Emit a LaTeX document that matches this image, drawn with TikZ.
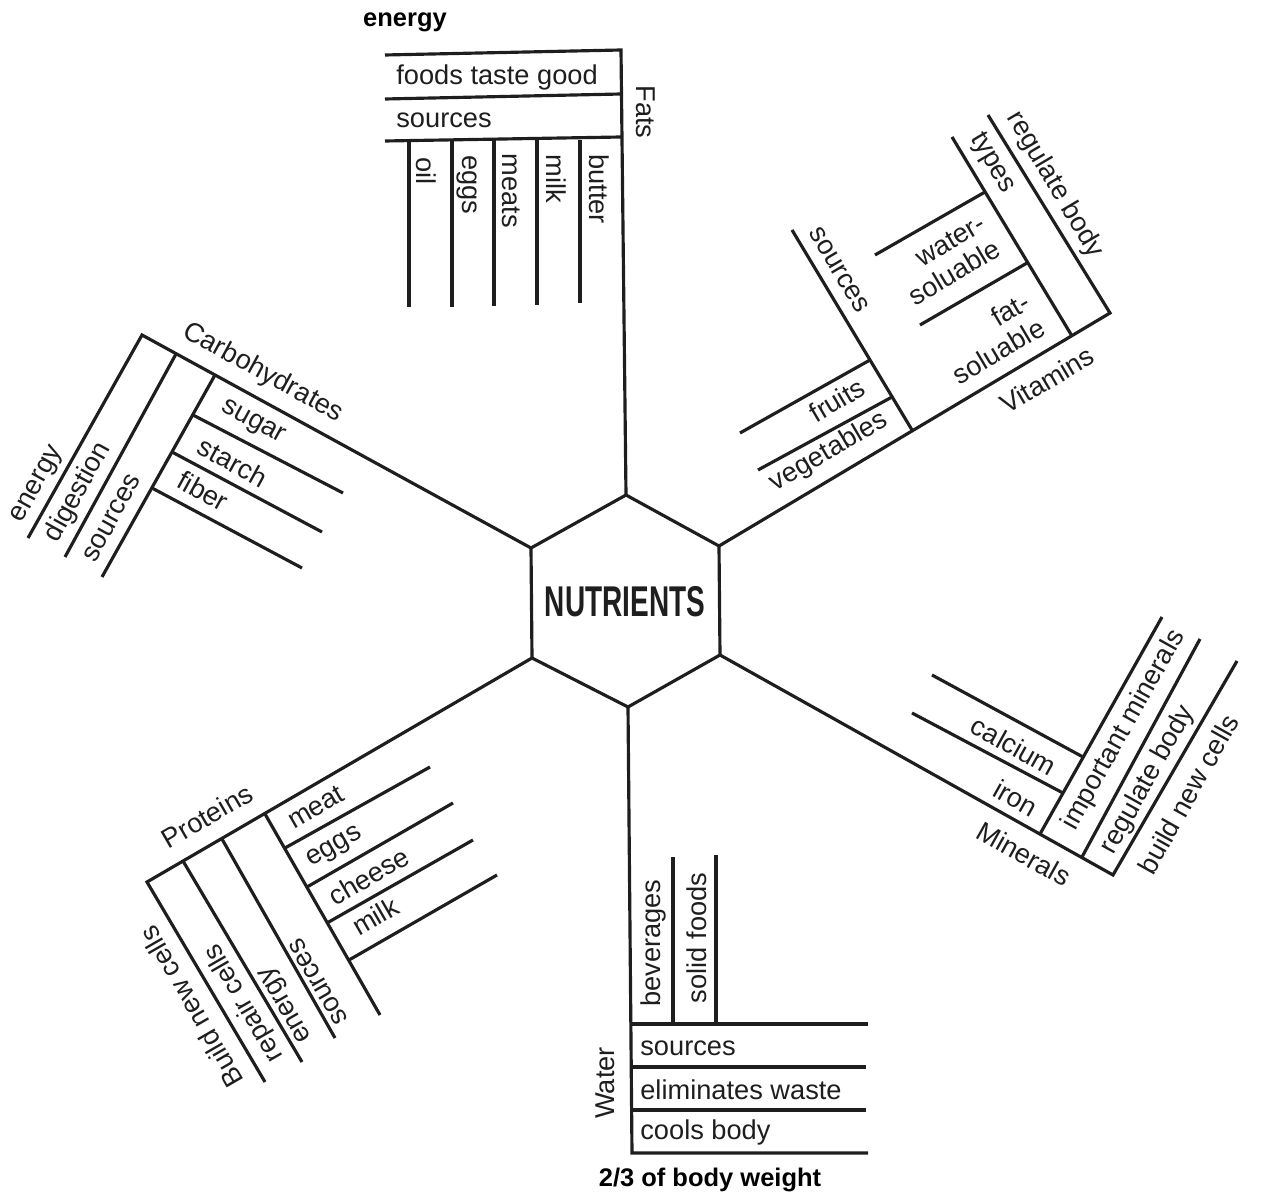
\documentclass[tikz,border=0pt]{standalone}
\usepackage{fontspec}
\setmainfont{Liberation Sans}
\begin{document}
\begin{tikzpicture}[x=0.02cm, y=-0.02cm]
\definecolor{ink}{HTML}{1E1E1E}
\tikzset{
  branch/.style={draw=ink, line width=1.8pt},
  lbl/.style={font=\fontsize{15.5}{17}\selectfont, text=ink, inner sep=0pt},
  note/.style={font=\bfseries\fontsize{14.5}{16}\selectfont, text=black, inner sep=0pt},
}
\useasboundingbox (0,0) rectangle (1262,1192);

% central hexagon
\coordinate (hT)  at (626,495);
\coordinate (hUR) at (719,546);
\coordinate (hLR) at (720,655);
\coordinate (hB)  at (628,707);
\coordinate (hLL) at (532,658);
\coordinate (hUL) at (531,548);
\draw[branch] (hT) -- (hUR) -- (hLR) -- (hB) -- (hLL) -- (hUL) -- cycle;
\node[inner sep=0pt, text=ink] (hub) at (625,602)
  {\scalebox{0.65}[1]{\bfseries\fontsize{24.5}{26}\selectfont NUTRIENTS}};

% ---- Fats ----
\draw[branch] (385,55) -- (621,50) -- (hT);
\draw[branch] (385,99) -- (621,94);
\draw[branch] (385,141) -- (621,137);
\foreach \x/\b in {409/307, 452/307, 494/306, 537/305, 580/303}
  \draw[branch] (\x,140) -- (\x,\b);
\node[lbl, anchor=west] (fTaste) at (396,77) {foods taste good};
\node[lbl, anchor=west] (fSrc) at (396,120) {sources};
\node[lbl, rotate=-90] (fOil) at (426,171) {oil};
\node[lbl, rotate=-90] (fEggs) at (467,185) {eggs};
\node[lbl, rotate=-90] (fMeats) at (511,191) {meats};
\node[lbl, rotate=-90] (fMilk) at (556,179) {milk};
\node[lbl, rotate=-90] (fButter) at (599,189) {butter};
\node[lbl, rotate=-90] (fats) at (646,112) {Fats};
\node[note] (topEnergy) at (405,22) {energy};

% ---- Vitamins ----
\draw[branch] (988,115) -- (1110,313) -- (hUR);
\draw[branch] (1072,336) -- (952,137);
\draw[branch] (985,192) -- (875,255);
\draw[branch] (1027,263) -- (920,325);
\draw[branch] (912,430) -- (792,230);
\draw[branch] (870,360) -- (740,433);
\draw[branch] (892,397) -- (758,470);
\node[lbl, rotate=-59.4] (vReg) at (1055,185) {regulate body};
\node[lbl, rotate=-59.4] (vTypes) at (992,163) {types};
\node[lbl, rotate=-59.4] (vSrc) at (839,270) {sources};
\node[lbl, rotate=30.6, align=right] (vWater) at (947,260) {water-\\soluable};
\node[lbl, rotate=30.6, align=right] (vFat) at (991,338) {fat-\\soluable};
\node[lbl, rotate=30.6] (vFruits) at (837,400) {fruits};
\node[lbl, rotate=30.6] (vVeg) at (829,452) {vegetables};
\node[lbl, rotate=30.6] (vitamins) at (1047,380) {Vitamins};

% ---- Carbohydrates ----
\draw[branch] (28,538) -- (142,335) -- (hUL);
\draw[branch] (176,354) -- (65,557);
\draw[branch] (215,375) -- (102,577);
\draw[branch] (193,415) -- (343,493);
\draw[branch] (172,452) -- (322,532);
\draw[branch] (152,488) -- (302,568);
\node[lbl, rotate=-28.7] (carbs) at (263,373) {Carbohydrates};
\node[lbl, rotate=-28.7] (cSugar) at (253,423) {sugar};
\node[lbl, rotate=-28.7] (cStarch) at (233,462) {starch};
\node[lbl, rotate=-28.7] (cFiber) at (203,491) {fiber};
\node[lbl, rotate=61] (cEnergy) at (38,485) {energy};
\node[lbl, rotate=61] (cDigest) at (78,492) {digestion};
\node[lbl, rotate=61] (cSrc) at (112,518) {sources};

% ---- Minerals ----
\draw[branch] (1237,661) -- (1113,875) -- (hLR);
\draw[branch] (1082,857) -- (1200,639);
\draw[branch] (1040,834) -- (1162,617);
\draw[branch] (1083,757) -- (932,675);
\draw[branch] (1063,793) -- (912,713);
\node[lbl, rotate=-29.2] (mCalcium) at (1014,746) {calcium};
\node[lbl, rotate=-29.2] (mIron) at (1016,798) {iron};
\node[lbl, rotate=-29.2] (minerals) at (1024,854) {Minerals};
\node[lbl, rotate=60.8] (mImportant) at (1124,730) {important minerals};
\node[lbl, rotate=60.8] (mReg) at (1148,780) {regulate body};
\node[lbl, rotate=60.8] (mBuild) at (1188,794) {build new cells};

% ---- Proteins ----
\draw[branch] (265,1082) -- (147,882) -- (hLL);
\draw[branch] (183,861) -- (302,1062);
\draw[branch] (222,839) -- (335,1038);
\draw[branch] (265,814) -- (380,1015);
\draw[branch] (285,848) -- (430,767);
\draw[branch] (307,887) -- (453,803);
\draw[branch] (327,923) -- (473,840);
\draw[branch] (349,960) -- (497,875);
\node[lbl, rotate=30.1] (proteins) at (207,816) {Proteins};
\node[lbl, rotate=30.1] (pMeat) at (316,807) {meat};
\node[lbl, rotate=30.1] (pEggs) at (335,848) {eggs};
\node[lbl, rotate=30.1] (pCheese) at (369,876) {cheese};
\node[lbl, rotate=30.1] (pMilk) at (375,916) {milk};
\node[lbl, rotate=120] (pBuild) at (191,1007) {Build new cells};
\node[lbl, rotate=120] (pRepair) at (244,1003) {repair cells};
\node[lbl, rotate=120] (pEnergy) at (287,1004) {energy};
\node[lbl, rotate=120] (pSrc) at (318,982) {sources};

% ---- Water ----
\draw[branch] (hB) -- (632,1153) -- (868,1153);
\draw[branch] (632,1024) -- (868,1024);
\draw[branch] (632,1067) -- (866,1067);
\draw[branch] (632,1110) -- (866,1110);
\draw[branch] (673,1024) -- (673,857);
\draw[branch] (716,1024) -- (716,855);
\node[lbl, rotate=90] (wBev) at (653,943) {beverages};
\node[lbl, rotate=90] (wSolid) at (697,938) {solid foods};
\node[lbl, anchor=west] (wSrc) at (640,1048) {sources};
\node[lbl, anchor=west] (wWaste) at (640,1090) {eliminates waste};
\node[lbl, anchor=west] (wCool) at (640,1132) {cools body};
\node[lbl, rotate=90] (water) at (605,1083) {Water};
\node[note] (bodyWeight) at (710,1180) {2/3 of body weight};
\end{tikzpicture}
\end{document}
